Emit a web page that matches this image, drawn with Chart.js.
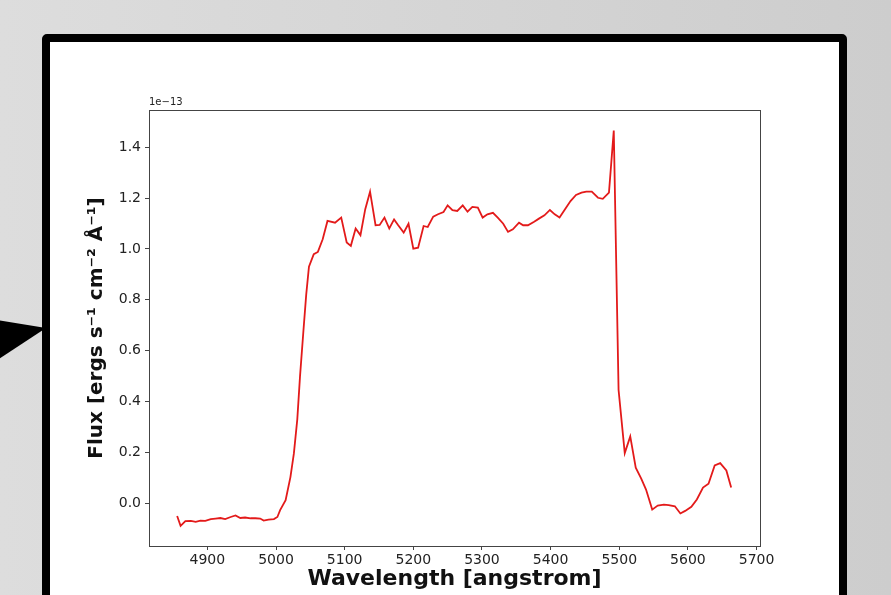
<!DOCTYPE html>
<html>
<head>
<meta charset="utf-8">
<script src="https://cdn.jsdelivr.net/npm/chart.js@4"></script>
<style>
  body {
    margin: 0;
    width: 891px;
    height: 595px;
    overflow: hidden;
    position: relative;
    background: linear-gradient(to right, #dddddd, #cdcdcd);
  }
  #arrow {
    position: absolute;
    left: 0; top: 315px;
    width: 46px; height: 46px;
    background: #000;
    clip-path: polygon(0 12%, 100% 28%, 0 94%);
  }
  #panel {
    position: absolute;
    left: 42px; top: 34px;
    width: 789px; height: 620px;
    border: 8px solid #000;
    border-radius: 5px;
    background: #fff;
  }
  #wrap {
    position: absolute;
    left: 50px; top: 42px;
  }
</style>
</head>
<body>
<div id="arrow"></div>
<div id="panel"></div>
<div id="wrap"><canvas id="spec" width="789" height="553"></canvas></div>
<script>
// spectre (flux en unites de 1e-13)
const wavelength = [
  4856, 4861, 4868, 4876, 4883, 4890, 4897, 4905, 4912, 4919, 4926, 4934, 4941, 4948, 4955, 4963,
  4970, 4977, 4982, 4989, 4997, 5002, 5006, 5014, 5021, 5026, 5031, 5035, 5040, 5044, 5048, 5055,
  5061, 5068, 5075, 5086, 5095, 5103, 5109, 5116, 5123, 5130, 5137, 5145, 5151, 5158, 5165, 5172,
  5178, 5186, 5193, 5200, 5207, 5215, 5221, 5229, 5236, 5244, 5250, 5257, 5264, 5272, 5279, 5286,
  5294, 5301, 5308, 5316, 5323, 5331, 5338, 5345, 5354, 5360, 5367, 5376, 5383, 5391, 5399, 5406,
  5413, 5421, 5429, 5437, 5445, 5452, 5460, 5469, 5476, 5485, 5492, 5499, 5508, 5516, 5524, 5532,
  5539, 5548, 5556, 5565, 5572, 5581, 5589, 5596, 5605, 5613, 5622, 5630, 5639, 5647, 5656, 5663
];
const flux = [
  -0.050, -0.089, -0.070, -0.069, -0.073, -0.068, -0.069, -0.062, -0.060, -0.058, -0.062, -0.054, -0.048, -0.058, -0.056, -0.059,
  -0.059, -0.060, -0.068, -0.064, -0.062, -0.054, -0.027, 0.012, 0.103, 0.195, 0.330, 0.500, 0.680, 0.820, 0.930, 0.979,
  0.988, 1.038, 1.110, 1.103, 1.123, 1.025, 1.012, 1.080, 1.054, 1.156, 1.225, 1.093, 1.094, 1.123, 1.080, 1.116,
  1.093, 1.064, 1.099, 1.001, 1.005, 1.090, 1.086, 1.127, 1.136, 1.145, 1.171, 1.152, 1.149, 1.171, 1.146, 1.165,
  1.162, 1.123, 1.136, 1.142, 1.123, 1.099, 1.067, 1.077, 1.103, 1.093, 1.093, 1.107, 1.119, 1.132, 1.153, 1.136,
  1.123, 1.156, 1.188, 1.212, 1.221, 1.225, 1.225, 1.201, 1.197, 1.221, 1.465, 0.445, 0.197, 0.263, 0.140, 0.097,
  0.054, -0.025, -0.009, -0.005, -0.007, -0.012, -0.040, -0.030, -0.014, 0.015, 0.062, 0.077, 0.149, 0.158, 0.129, 0.062
];
const xTicks = [4900, 5000, 5100, 5200, 5300, 5400, 5500, 5600, 5700];
const yTicks = [0.0, 0.2, 0.4, 0.6, 0.8, 1.0, 1.2, 1.4];

const axisColor = '#444';
const tickFont = { family: 'DejaVu Sans', size: 14 };

// cadre complet + facteur d'echelle en haut a gauche
const framePlugin = {
  id: 'frame',
  afterDatasetsDraw(chart) {
    const { ctx, chartArea: a } = chart;
    ctx.save();
    ctx.strokeStyle = axisColor;
    ctx.lineWidth = 1;
    ctx.strokeRect(a.left + 0.5, a.top + 0.5, a.right - a.left, a.bottom - a.top);
    ctx.fillStyle = '#222';
    ctx.font = '10px "DejaVu Sans"';
    ctx.textBaseline = 'bottom';
    ctx.fillText('1e\u221213', a.left, a.top - 3);
    ctx.restore();
  }
};

new Chart(document.getElementById('spec').getContext('2d'), {
  type: 'line',
  data: {
    datasets: [{
      data: wavelength.map((w, i) => ({ x: w, y: flux[i] })),
      borderColor: '#e31a1a',
      borderWidth: 1.8,
      pointRadius: 0,
      tension: 0,
      fill: false
    }]
  },
  options: {
    responsive: false,
    devicePixelRatio: 1,
    animation: false,
    layout: { padding: { left: 30, right: 79, top: 68, bottom: 0 } },
    plugins: { legend: { display: false }, tooltip: { enabled: false } },
    scales: {
      x: {
        type: 'linear',
        min: 4815,
        max: 5705,
        afterBuildTicks: s => { s.ticks = xTicks.map(v => ({ value: v })); },
        afterFit: s => { s.height = 49; },
        ticks: { font: tickFont, color: '#222', padding: 2, maxRotation: 0, autoSkip: false, callback: v => String(v) },
        grid: { drawOnChartArea: false, tickLength: 4, tickColor: axisColor },
        border: { color: axisColor },
        title: {
          display: true, text: 'Wavelength [angstrom]', color: '#111',
          font: { family: 'DejaVu Sans', size: 22, weight: 'bold' },
          padding: { top: 0, bottom: 3 }
        }
      },
      y: {
        min: -0.168,
        max: 1.546,
        afterBuildTicks: s => { s.ticks = yTicks.map(v => ({ value: v })); },
        afterFit: s => { s.width = 69; },
        ticks: { font: tickFont, color: '#222', padding: 4, autoSkip: false, callback: v => v.toFixed(1) },
        grid: { drawOnChartArea: false, tickLength: 4, tickColor: axisColor },
        border: { color: axisColor },
        title: {
          display: true, text: 'Flux [ergs s\u207B\u00B9 cm\u207B\u00B2 \u00C5\u207B\u00B9]', color: '#111',
          font: { family: 'DejaVu Sans', size: 20, weight: 'bold' },
          padding: { top: 5, bottom: 0 }
        }
      }
    }
  },
  plugins: [framePlugin]
});
</script>
</body>
</html>
